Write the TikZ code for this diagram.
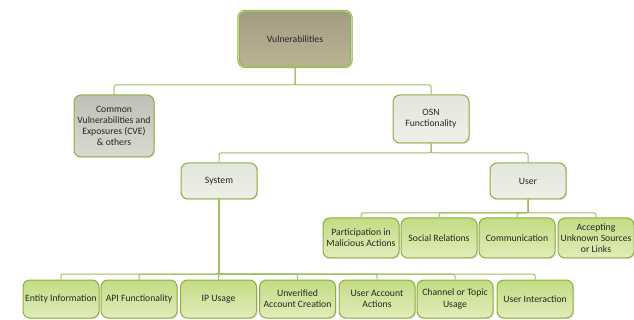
\documentclass[tikz,border=0pt]{standalone}
\usepackage{fontspec}
\setmainfont{Carlito}
\usepackage{tikz}
\usetikzlibrary{shadows}
\definecolor{edgegreen}{HTML}{8BAF3E}
\definecolor{linegreen}{HTML}{9DBE5C}
\definecolor{leafA}{HTML}{C3DC84}
\definecolor{leafB}{HTML}{E0EDB9}
\definecolor{rootA}{HTML}{A39C84}
\definecolor{rootB}{HTML}{BBB392}
\definecolor{grayA}{HTML}{BFC0B6}
\definecolor{grayB}{HTML}{D8DAD0}
\definecolor{midA}{HTML}{E3E6DC}
\definecolor{midB}{HTML}{EEF0E8}
\tikzstyle{box_base} = [rectangle, rounded corners=7pt, draw=edgegreen, line width=1pt, align=center, inner sep=0.5pt, font=\fontsize{9.7}{11.2}\selectfont, text=black!85, drop shadow={opacity=0.18, shadow xshift=1.2pt, shadow yshift=-1.2pt}]
\tikzstyle{box_root} = [box_base, top color=rootA, bottom color=rootB, double=edgegreen!50, double distance=0.8pt, line width=0.8pt, minimum width=113pt, minimum height=56pt]
\tikzstyle{box_gray} = [box_base, top color=grayA, bottom color=grayB, minimum width=80pt, minimum height=62pt]
\tikzstyle{box_mid} = [box_base, top color=midA, bottom color=midB, minimum width=76pt, minimum height=36pt]
\tikzstyle{box_leaf} = [box_base, top color=leafA, bottom color=leafB, minimum width=76pt, minimum height=38pt]
\tikzstyle{link} = [draw=linegreen, line width=1pt, rounded corners=2pt]

\begin{document}
\begin{tikzpicture}[x=1pt,y=1pt]
\useasboundingbox (0,0) rectangle (634,-320);
\node [box_root] (vul) at (295,-39) {Vulnerabilities};
\node [box_gray] (cve) at (114,-126) {Common\\Vulnerabilities and\\Exposures (CVE)\\\& others};
\node [box_mid, minimum height=48pt] (osn) at (431,-119) {OSN\\Functionality};
\node [box_mid] (sys) at (219,-181) {System};
\node [box_mid] (usr) at (528,-181) {User};
% user side
\node [box_leaf, minimum height=40pt] (mal) at (361,-238) {Participation in\\Malicious Actions};
\node [box_leaf, minimum height=40pt] (soc) at (439,-238) {Social Relations};
\node [box_leaf, minimum height=40pt] (com) at (517,-238) {Communication};
\node [box_leaf, minimum height=40pt] (acc) at (596,-238) {Accepting\\Unknown Sources\\or Links};
% system side
\node [box_leaf] (ent) at (61,-299) {Entity Information};
\node [box_leaf] (api) at (139,-299) {API Functionality};
\node [box_leaf] (ipu) at (218.5,-299) {IP Usage};
\node [box_leaf] (unv) at (297.5,-299) {Unverified\\Account Creation};
\node [box_leaf] (uaa) at (377,-299) {User Account\\Actions};
\node [box_leaf] (cha) at (455,-299) {Channel or Topic\\Usage};
\node [box_leaf] (uin) at (535,-299) {User Interaction};

\foreach \c in {cve,osn}
    \draw [link] (vul.south) -- (vul.south |- 0,-85) -| (\c.north);
\foreach \c in {sys,usr}
    \draw [link] (osn.south) -- (osn.south |- 0,-153) -| (\c.north);
\foreach \c in {mal,soc,com,acc}
    \draw [link] (usr.south) -- (usr.south |- 0,-213) -| (\c.north);
\foreach \c in {ent,api,ipu,unv,uaa,cha,uin}
    \draw [link] (sys.south) -- (sys.south |- 0,-274) -| (\c.north);
\end{tikzpicture}
\end{document}
